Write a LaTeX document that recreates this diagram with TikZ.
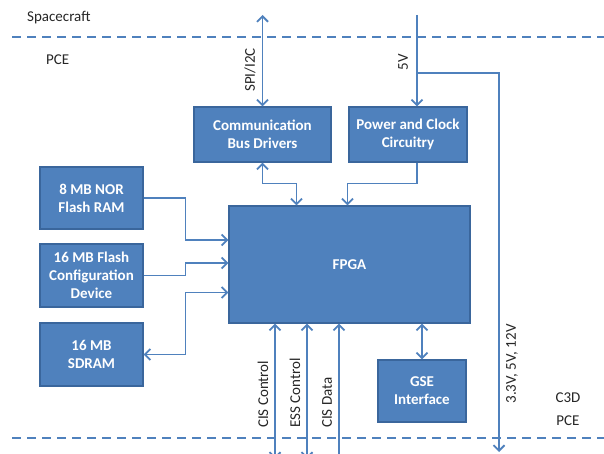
\documentclass[tikz,border=0pt]{standalone}
\usepackage{fontspec}
\setmainfont{Carlito}
\usetikzlibrary{arrows.meta}
\definecolor{boxfill}{HTML}{4F81BD}
\definecolor{boxedge}{HTML}{3A669C}
\definecolor{linec}{HTML}{4F81BD}
\definecolor{textc}{HTML}{262626}
\begin{document}
\begin{tikzpicture}[x=1pt,y=-1pt,
  >={Straight Barb[length=5.5pt,width=11pt,line width=1.8pt]},
  blk/.style={draw=boxedge, line width=1.2pt, fill=boxfill, text=white,
    font=\bfseries\fontsize{15}{18}\selectfont, align=center, inner sep=0pt},
  wire/.style={draw=linec, line width=1.6pt},
  sep/.style={draw=linec, line width=2pt, dash pattern=on 9pt off 6pt},
  lbl/.style={text=textc, font=\fontsize{15}{18}\selectfont, inner sep=0pt},
  vlbl/.style={lbl, rotate=90}
]
\fill[white] (0,0) rectangle (604,454);
\useasboundingbox (0,0) rectangle (604,454);

% separators
\coordinate (s1a) at (12,37); \coordinate (s1b) at (604,37);
\coordinate (s2a) at (12,438); \coordinate (s2b) at (604,438);
\draw[sep] (s1a) -- (s1b);
\draw[sep] (s2a) -- (s2b);

% region labels
\node[lbl, anchor=west] (sc) at (27,18) {Spacecraft};
\node[lbl, anchor=west] (pce1) at (46,60) {PCE};
\node[lbl] (c3d) at (568,398) {C3D};
\node[lbl] (pce2) at (568,421) {PCE};

% boxes
\node[blk, minimum width=137pt, minimum height=55pt] (comm) at (262.5,134.5) {Communication\\Bus Drivers};
\node[blk, minimum width=118pt, minimum height=55pt] (power) at (408,134.5) {Power and Clock\\Circuitry};
\node[blk, minimum width=241pt, minimum height=117pt] (fpga) at (349.5,264.5) {FPGA};
\node[blk, minimum width=88pt, minimum height=62pt] (gse) at (422,391) {GSE\\Interface};
\node[blk, minimum width=103pt, minimum height=62pt] (nor) at (91.5,198) {8 MB NOR\\Flash RAM};
\node[blk, minimum width=103pt, minimum height=63pt] (flash) at (91.5,275.5) {16 MB Flash\\Configuration\\Device};
\node[blk, minimum width=103pt, minimum height=63pt] (sdram) at (91.5,354.5) {16 MB\\SDRAM};

% top connectors
\coordinate (spitop) at (262.5,15);
\draw[wire,<->] (spitop) -- (comm.north);
\node[vlbl] (spil) at (250,70) {SPI/I2C};

\coordinate (vtop) at (417,15);
\coordinate (vbr) at (417,73);
\coordinate (vbot) at (499,452);
\draw[wire,->] (vtop) -- (vtop |- power.north);
\draw[wire,->] (vbr) -| (vbot);
\node[vlbl] (v5l) at (403,62) {5V};
\node[vlbl] (v3l) at (512,364) {3.3V, 5V, 12V};

% box to FPGA
\draw[wire,<->] (comm.south) -- ++(0,21) -| ([xshift=68pt]fpga.north west);
\draw[wire,->] ([xshift=9pt]power.south) -- ++(0,21) -| ([xshift=119pt]fpga.north west);
\draw[wire,->] (nor.east) -- ++(42,0) |- ([yshift=24.5pt]fpga.west);
\draw[wire,->] (flash.east) -- ++(42,0) |- ([yshift=1.5pt]fpga.west);
\draw[wire,<->] (sdram.east) -- ++(42,0) |- ([yshift=-28pt]fpga.west);
\draw[wire,<->] (gse.north |- fpga.south) -- (gse.north);

% bottom connectors
\coordinate (cisc) at (275,459);
\coordinate (essc) at (307,459);
\coordinate (cisd) at (339,456);
\draw[wire,<->] (cisc |- fpga.south) -- (cisc);
\draw[wire,<->] (essc |- fpga.south) -- (essc);
\draw[wire,<-] (cisd |- fpga.south) -- (cisd);
\node[vlbl, anchor=west] (cisl) at (263,428) {CIS Control};
\node[vlbl, anchor=west] (essl) at (295,428) {ESS Control};
\node[vlbl, anchor=west] (cisdl) at (327,428) {CIS Data};
\end{tikzpicture}
\end{document}
